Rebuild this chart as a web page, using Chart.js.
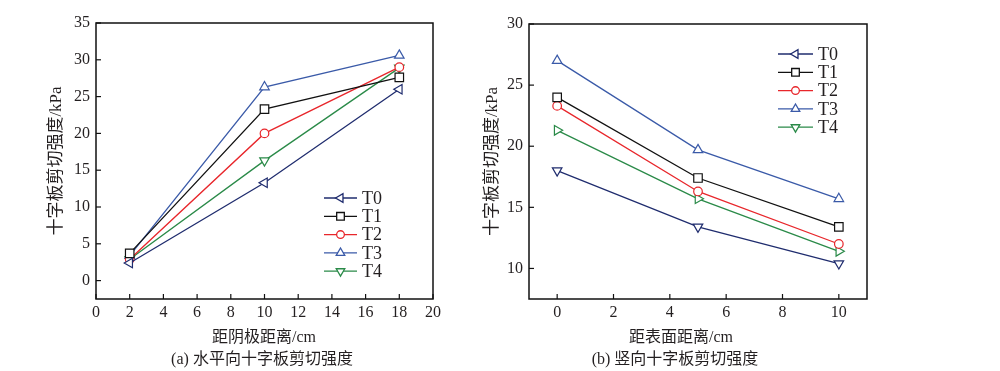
<!DOCTYPE html>
<html>
<head>
<meta charset="utf-8">
<script src="https://cdn.jsdelivr.net/npm/chart.js@4.4.0/dist/chart.umd.min.js"></script>
<style>
  body { margin: 0; background: #fff; }
  #wrap { position: relative; width: 1000px; height: 371px; }
  .box { position: absolute; top: 0; height: 371px; }
  .lbl { position: absolute; font-family: "Liberation Serif", "Noto Sans CJK SC", serif; font-size: 16px; color: #231f20; white-space: nowrap; transform: translateX(-50%); }
</style>
</head>
<body>
<div id="wrap">
  <div class="box" style="left:0;width:480px"><canvas id="leftChart"></canvas></div>
  <div class="box" style="left:480px;width:520px"><canvas id="rightChart"></canvas></div>
  <div class="lbl" style="left:264px;top:323px">距阴极距离/cm</div>
  <div class="lbl" style="left:262px;top:345px">(a) 水平向十字板剪切强度</div>
  <div class="lbl" style="left:681px;top:323px">距表面距离/cm</div>
  <div class="lbl" style="left:675px;top:345px">(b) 竖向十字板剪切强度</div>
</div>
<script>
// series names and colours
const seriesNames = ['T0', 'T1', 'T2', 'T3', 'T4'];
const seriesColors = ['#1f2c6e', '#111111', '#e8262b', '#3a5aa8', '#2a8a48'];

// (a) horizontal
const leftX = [2, 10, 18];
const leftT0 = [2.4, 13.3, 26.0];
const leftT1 = [3.7, 23.3, 27.6];
const leftT2 = [2.9, 20.0, 29.0];
const leftT3 = [3.4, 26.3, 30.6];
const leftT4 = [2.9, 16.3, 28.9];
const leftXTicks = [0, 2, 4, 6, 8, 10, 12, 14, 16, 18, 20];
const leftYTicks = [0, 5, 10, 15, 20, 25, 30, 35];

// (b) vertical
const rightX = [0, 5, 10];
const rightT0 = [18.0, 13.4, 10.4];
const rightT1 = [24.0, 17.4, 13.4];
const rightT2 = [23.3, 16.3, 12.0];
const rightT3 = [27.0, 19.7, 15.7];
const rightT4 = [21.3, 15.7, 11.4];
const rightXTicks = [0, 2, 4, 6, 8, 10];
const rightYTicks = [10, 15, 20, 25, 30];

const fontFam = '"Liberation Serif", "Noto Sans CJK SC", serif';
const textColor = '#231f20';

const markers = [
  { style: 'triangle', r: 5.5 },
  { style: 'rect', r: 6 },
  { style: 'circle', r: 4.3 },
  { style: 'triangle', r: 5.5 },
  { style: 'triangle', r: 5.5 }
];

function makeSets(xs, ys, rots) {
  return ys.map(function(vals, i) {
    return {
      label: seriesNames[i],
      data: vals.map(function(v, j) { return { x: xs[j], y: v }; }),
      borderColor: seriesColors[i],
      backgroundColor: '#ffffff',
      borderWidth: 1.3,
      pointStyle: markers[i].style,
      pointRotation: rots[i],
      pointRadius: markers[i].r,
      pointBorderWidth: 1.2,
      tension: 0
    };
  });
}

// frame, inward ticks and line+marker legend
const framePlugin = {
  id: 'frame',
  afterDatasetsDraw(chart, args, opts) {
    const c = chart.ctx;
    const a = chart.chartArea;
    c.save();
    c.strokeStyle = '#111';
    c.lineWidth = 1.5;
    c.strokeRect(a.left, a.top, a.right - a.left, a.bottom - a.top);
    c.lineWidth = 1.2;
    chart.scales.x.ticks.forEach(function(t) {
      const px = chart.scales.x.getPixelForValue(t.value);
      c.beginPath(); c.moveTo(px, a.bottom); c.lineTo(px, a.bottom - 5); c.stroke();
    });
    chart.scales.y.ticks.forEach(function(t) {
      const py = chart.scales.y.getPixelForValue(t.value);
      c.beginPath(); c.moveTo(a.left, py); c.lineTo(a.left + 5, py); c.stroke();
    });
    // legend
    c.font = '18px ' + fontFam;
    c.textBaseline = 'middle';
    chart.data.datasets.forEach(function(ds, i) {
      const y = opts.y0 + i * opts.dy;
      c.strokeStyle = ds.borderColor;
      c.fillStyle = '#fff';
      c.lineWidth = 1.3;
      c.beginPath(); c.moveTo(opts.x0, y); c.lineTo(opts.x1, y); c.stroke();
      Chart.helpers.drawPoint(c, {
        pointStyle: ds.pointStyle,
        rotation: opts.rots[i],
        radius: ds.pointRadius * 0.9,
        borderWidth: ds.pointBorderWidth
      }, (opts.x0 + opts.x1) / 2, y);
      c.fillStyle = textColor;
      c.fillText(ds.label, opts.x1 + 5, y + 1);
    });
    c.restore();
  }
};

function axisY(ticks, min, max, width, titlePad) {
  return {
    type: 'linear', min: min, max: max,
    afterFit: function(s) { s.width = width; },
    afterBuildTicks: function(s) { s.ticks = ticks.map(function(v) { return { value: v }; }); },
    grid: { display: false, drawTicks: false },
    border: { display: false },
    ticks: { color: textColor, padding: 6, font: { family: fontFam, size: 16 } },
    title: { display: true, text: '十字板剪切强度/kPa', color: textColor, padding: { top: titlePad, bottom: 0 }, font: { family: fontFam, size: 17 } }
  };
}

function axisX(ticks, min, max) {
  return {
    type: 'linear', min: min, max: max,
    afterFit: function(s) { s.height = 72; },
    afterBuildTicks: function(s) { s.ticks = ticks.map(function(v) { return { value: v }; }); },
    grid: { display: false, drawTicks: false },
    border: { display: false },
    ticks: { color: textColor, padding: 4, autoSkip: false, maxRotation: 0, font: { family: fontFam, size: 16 } }
  };
}

// (a)
new Chart(document.getElementById('leftChart'), {
  type: 'line',
  data: { datasets: makeSets(leftX, [leftT0, leftT1, leftT2, leftT3, leftT4], [-90, 0, 0, 0, 180]) },
  options: {
    responsive: true, maintainAspectRatio: false, animation: false,
    layout: { padding: { top: 23, right: 47, left: 0, bottom: 0 } },
    plugins: {
      legend: { display: false }, tooltip: { enabled: false },
      frame: { x0: 324, x1: 357, y0: 198, dy: 18.3, rots: [-90, 0, 0, 0, 180] }
    },
    scales: { x: axisX(leftXTicks, 0, 20), y: axisY(leftYTicks, -2.5, 35, 96, 46) }
  },
  plugins: [framePlugin]
});

// (b)
new Chart(document.getElementById('rightChart'), {
  type: 'line',
  data: { datasets: makeSets(rightX, [rightT0, rightT1, rightT2, rightT3, rightT4], [180, 0, 0, 0, 90]) },
  options: {
    responsive: true, maintainAspectRatio: false, animation: false,
    layout: { padding: { top: 24, right: 133, left: 0, bottom: 0 } },
    plugins: {
      legend: { display: false }, tooltip: { enabled: false },
      frame: { x0: 298, x1: 333, y0: 54, dy: 18.3, rots: [-90, 0, 0, 0, 180] }
    },
    scales: { x: axisX(rightXTicks, -1, 11), y: axisY(rightYTicks, 7.5, 30, 49, 2) }
  },
  plugins: [framePlugin]
});
</script>
</body>
</html>
